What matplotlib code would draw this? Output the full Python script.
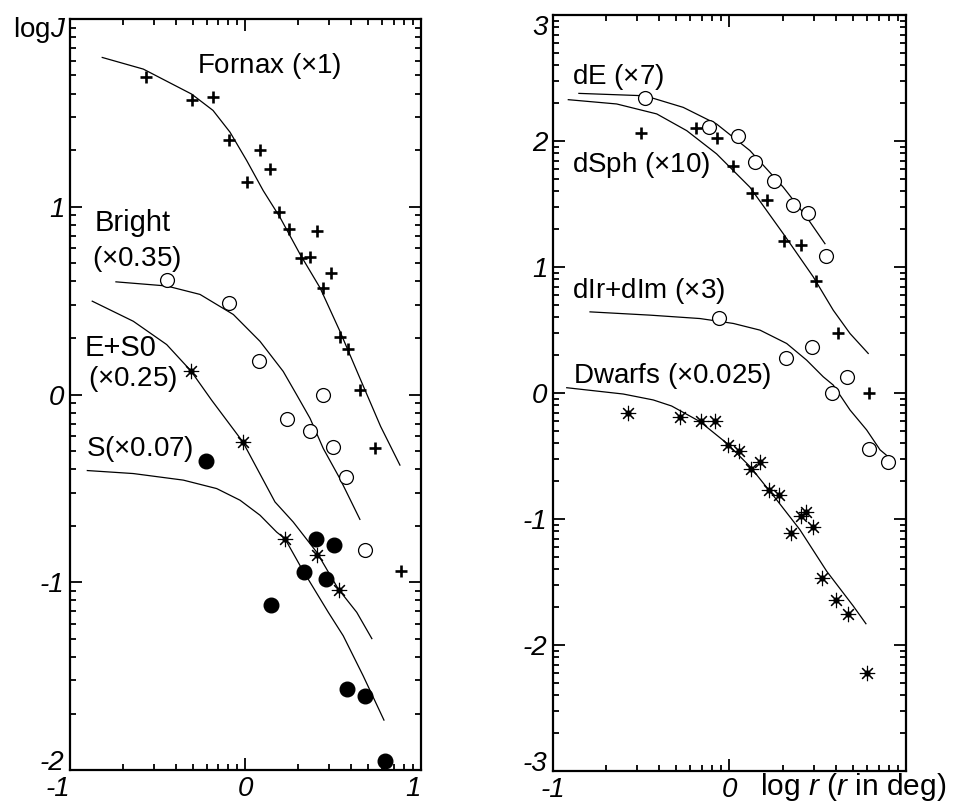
import numpy as np
import matplotlib
matplotlib.use("Agg")
import matplotlib.pyplot as plt

plt.rcParams['font.family'] = ['Liberation Sans', 'DejaVu Sans']
plt.rcParams['mathtext.fontset'] = 'custom'
plt.rcParams['mathtext.rm'] = 'Liberation Sans'
plt.rcParams['mathtext.it'] = 'Liberation Sans:italic'

# --- left panel: Fornax and galaxy samples ---------------------------------
fornax_x = [-0.569, -0.307, -0.183, -0.092, 0.083, 0.140, 0.010, 0.191, 0.248, 0.406,
            0.316, 0.368, 0.487, 0.440, 0.538, 0.586, 0.652, 0.738, 0.886]
fornax_y = [1.69, 1.567, 1.585, 1.357, 1.30, 1.20, 1.134, 0.970, 0.88, 0.872,
            0.729, 0.733, 0.645, 0.565, 0.305, 0.242, 0.025, -0.287, -0.941]
fornax_fit_x = [-0.816, -0.582, -0.307, -0.185, -0.088, 0.007, 0.101, 0.197, 0.311,
                0.425, 0.538, 0.652, 0.770, 0.880]
fornax_fit_y = [1.795, 1.733, 1.60, 1.513, 1.397, 1.246, 1.086, 0.943, 0.747,
                0.568, 0.337, 0.087, -0.17, -0.376]

bright_x = [-0.449, -0.092, 0.079, 0.443, 0.238, 0.368, 0.497, 0.573, 0.683]
bright_y = [0.608, 0.485, 0.176, -0.002, -0.130, -0.193, -0.282, -0.439, -0.827]
bright_fit_x = [-0.738, -0.449, -0.259, -0.069, 0.083, 0.215, 0.292, 0.368, 0.443, 0.538, 0.652]
bright_fit_y = [0.60, 0.578, 0.533, 0.426, 0.283, 0.123, -0.002, -0.127, -0.287, -0.448, -0.665]

es0_x = [-0.312, -0.016, 0.225, 0.409, 0.533]
es0_y = [0.127, -0.251, -0.768, -0.854, -1.039]
es0_fit_x = [-0.873, -0.639, -0.449, -0.312, -0.193, -0.016, 0.168, 0.272, 0.406, 0.529, 0.634, 0.72]
es0_fit_y = [0.497, 0.39, 0.266, 0.127, -0.03, -0.251, -0.572, -0.679, -0.840, -1.036, -1.16, -1.30]

s_x = [-0.227, 0.145, 0.402, 0.504, 0.335, 0.457, 0.577, 0.683, 0.795]
s_y = [-0.355, -1.119, -0.768, -0.799, -0.943, -0.982, -1.567, -1.606, -1.954]
s_fit_x = [-0.901, -0.639, -0.354, -0.164, -0.031, 0.083, 0.178, 0.225, 0.311, 0.368,
           0.472, 0.557, 0.671, 0.789]
s_fit_y = [-0.405, -0.421, -0.456, -0.501, -0.563, -0.643, -0.733, -0.768, -0.911, -1.0,
           -1.16, -1.285, -1.499, -1.734]

# --- right panel: dwarf samples ---------------------------------------------
de_x = [-0.479, -0.114, 0.050, 0.144, 0.252, 0.358, 0.447, 0.545]
de_y = [2.338, 2.114, 2.043, 1.831, 1.686, 1.494, 1.428, 1.087]
de_fit_x = [-0.853, -0.479, -0.262, -0.073, 0.116, 0.305, 0.437, 0.541]
de_fit_y = [2.378, 2.359, 2.267, 2.135, 1.924, 1.633, 1.396, 1.185]

dsph_x = [-0.503, -0.190, -0.069, 0.022, 0.126, 0.214, 0.311, 0.405, 0.488, 0.617, 0.790]
dsph_y = [2.061, 2.101, 2.021, 1.800, 1.589, 1.534, 1.206, 1.177, 0.889, 0.473, -0.002]
dsph_fit_x = [-0.913, -0.639, -0.412, -0.242, -0.073, 0.116, 0.305, 0.475, 0.588, 0.683, 0.786]
dsph_fit_y = [2.328, 2.294, 2.215, 2.082, 1.898, 1.633, 1.264, 0.921, 0.657, 0.472, 0.314]

dirr_x = [-0.058, 0.320, 0.466, 0.668, 0.582, 0.789, 0.896]
dirr_y = [0.599, 0.275, 0.367, 0.129, -0.002, -0.446, -0.544]
dirr_fit_x = [-0.790, -0.450, -0.167, 0.022, 0.173, 0.324, 0.437, 0.531, 0.588, 0.683,
              0.777, 0.853, 0.909]
dirr_fit_y = [0.644, 0.618, 0.591, 0.552, 0.499, 0.393, 0.261, 0.129, 0.063, -0.135,
              -0.293, -0.451, -0.517]

dw_x = [-0.573, -0.280, -0.163, -0.082, -0.010, 0.056, 0.120, 0.173, 0.226, 0.279,
        0.347, 0.403, 0.433, 0.471, 0.522, 0.603, 0.673, 0.777]
dw_y = [-0.161, -0.188, -0.219, -0.219, -0.414, -0.459, -0.604, -0.544, -0.768, -0.808,
        -1.111, -0.979, -0.948, -1.066, -1.467, -1.644, -1.750, -2.225]
dw_fit_x = [-0.922, -0.602, -0.432, -0.328, -0.167, -0.016, 0.116, 0.267, 0.399, 0.551,
            0.702, 0.773]
dw_fit_y = [0.042, -0.008, -0.055, -0.103, -0.227, -0.398, -0.583, -0.847, -1.085, -1.415,
            -1.692, -1.831]

FS = 20
TFS = 20
LOGMINOR = np.log10(np.arange(2, 10))

plus = dict(ls='none', marker='+', ms=8.5, mew=1.9, color='black')
ocirc = dict(ls='none', marker='o', ms=10, mfc='white', mec='black', mew=0.9)
fcirc = dict(ls='none', marker='o', ms=10.5, color='black')
aster = dict(ls='none', marker=(8, 2, 0), ms=11, mew=0.8, color='black')
dot = dict(ls='none', marker='o', ms=3.5, color='black')
fit = dict(color='black', lw=0.9)


def style_axes(ax, ylo, yhi):
    ax.set_xlim(-1, 1)
    ax.set_ylim(ylo, yhi)
    ax.set_xticks([-1, 0, 1])
    ax.set_xticks([d + m for d in (-1, 0) for m in LOGMINOR], minor=True)
    ax.set_yticks(range(ylo, yhi + 1))
    ax.set_yticks([d + m for d in range(ylo, yhi) for m in LOGMINOR], minor=True)
    ax.tick_params(which='both', direction='in', top=True, right=True, width=1.3)
    ax.tick_params(which='major', length=8.5, pad=4)
    ax.tick_params(which='minor', length=4.5)
    for s in ax.spines.values():
        s.set_linewidth(1.6)


fig = plt.figure(figsize=(9.57, 8.07), dpi=100)
fig.patch.set_facecolor('white')

# left panel
ax1 = fig.add_axes([0.0731, 0.0458, 0.3668, 0.9307])
style_axes(ax1, -2, 2)
ax1.plot(fornax_fit_x, fornax_fit_y, **fit)
ax1.plot(bright_fit_x, bright_fit_y, **fit)
ax1.plot(es0_fit_x, es0_fit_y, **fit)
ax1.plot(s_fit_x, s_fit_y, **fit)
ax1.plot(fornax_x, fornax_y, **plus)
ax1.plot(bright_x, bright_y, **ocirc)
ax1.plot(es0_x, es0_y, **aster)
ax1.plot(es0_x, es0_y, **dot)
ax1.plot(s_x, s_y, **fcirc)
ax1.set_xticklabels(['-1', '0', '1'], fontsize=TFS, fontstyle='italic')
ax1.set_yticklabels(['-2', '-1', '0', '1', ''], fontsize=TFS, fontstyle='italic')
lab = ax1.get_xticklabels()
lab[0].set_ha('right')
lab[2].set_ha('right')
ax1.get_yticklabels()[0].set_va('baseline')
ax1.text(-0.276, 1.711, r'Fornax (×$\mathit{1}$)', fontsize=FS)
ax1.text(-0.858, 0.872, 'Bright', fontsize=FS + 1)
ax1.text(-0.875, 0.684, r'(×$\mathit{0.35}$)', fontsize=FS)
ax1.text(-0.915, 0.203, 'E+S0', fontsize=FS + 1)
ax1.text(-0.897, 0.043, r'(×$\mathit{0.25}$)', fontsize=FS)
ax1.text(-0.909, -0.33, r'S(×$\mathit{0.07}$)', fontsize=FS)
fig.text(13 / 957, 1 - 37 / 807, r'log$\mathit{J}$', fontsize=TFS, va='baseline')

# right panel
ax2 = fig.add_axes([0.5778, 0.0446, 0.3689, 0.9368])
style_axes(ax2, -3, 3)
ax2.plot(de_fit_x, de_fit_y, **fit)
ax2.plot(dsph_fit_x, dsph_fit_y, **fit)
ax2.plot(dirr_fit_x, dirr_fit_y, **fit)
ax2.plot(dw_fit_x, dw_fit_y, **fit)
ax2.plot(de_x, de_y, **ocirc)
ax2.plot(dsph_x, dsph_y, **plus)
ax2.plot(dirr_x, dirr_y, **ocirc)
ax2.plot(dw_x, dw_y, **aster)
ax2.plot(dw_x, dw_y, **dot)
ax2.set_xticklabels(['-1', '0', ''], fontsize=TFS, fontstyle='italic')
ax2.set_yticklabels(['-3', '-2', '-1', '0', '1', '2', '3'], fontsize=TFS, fontstyle='italic')
ax2.get_yticklabels()[0].set_va('baseline')
ax2.get_yticklabels()[-1].set_va('top')
ax2.text(-0.892, 2.454, r'dE (×$\mathit{7}$)', fontsize=FS)
ax2.text(-0.892, 1.752, r'dSph (×$\mathit{10}$)', fontsize=FS)
ax2.text(-0.892, 0.752, r'dIr+dIm (×$\mathit{3}$)', fontsize=FS)
ax2.text(-0.887, 0.079, r'Dwarfs (×$\mathit{0.025}$)', fontsize=FS)
fig.text(760 / 957, 12 / 807, r'log $\mathit{r}$ ($\mathit{r}$ in deg)', fontsize=FS + 1.5,
         va='baseline')

fig.savefig('out.png', dpi=100)
